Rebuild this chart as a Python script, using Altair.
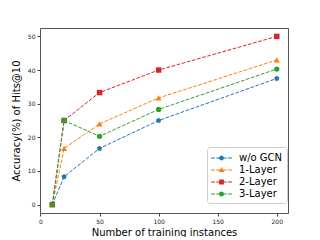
import altair as alt
import pandas as pd

x_vals = [10, 20, 50, 100, 200]
series_names = ["w/o GCN", "1-Layer", "2-Layer", "3-Layer"]
wo_gcn = [0, 8.3, 16.7, 25.0, 37.5]
layer1 = [0, 16.7, 24.0, 31.7, 43.0]
layer2 = [0, 25.0, 33.3, 40.0, 50.0]
layer3 = [0, 25.0, 20.3, 28.3, 40.3]
colors = ["#1f77b4", "#ff7f0e", "#d62728", "#2ca02c"]
x_ticks = [0, 50, 100, 150, 200]
y_ticks = [0, 10, 20, 30, 40, 50]

values = [wo_gcn, layer1, layer2, layer3]
rows = []
for name, vals in zip(series_names, values):
    for xv, yv in zip(x_vals, vals):
        rows.append({"x": xv, "y": yv, "series": name})
df = pd.DataFrame(rows)

pent = "M0,-1 L0.951,-0.309 L0.588,0.809 L-0.588,0.809 L-0.951,-0.309 Z"
marker_shapes = [pent, "triangle-up", "square", "circle"]
marker_sizes = [30, 36, 30, 28]


def fmt(v):
    return f"{v:.3f}"


# legend glyph: dashed line plus marker, in unit space (1 unit = 7 px)
cx = 0.5
dash_h = 0.07
dashes = [(-1.0, -0.43), (-0.25, 0.29), (0.71, 1.25), (1.43, 2.0)]
dash_path = " ".join(
    f"M{fmt(a)},{fmt(-dash_h)} L{fmt(b)},{fmt(-dash_h)} L{fmt(b)},{fmt(dash_h)} L{fmt(a)},{fmt(dash_h)} Z"
    for a, b in dashes
)
r = 0.39
pent_small = "M" + " L".join(
    f"{fmt(cx + px * r)},{fmt(py * r)}"
    for px, py in [(0, -1), (0.951, -0.309), (0.588, 0.809), (-0.588, 0.809), (-0.951, -0.309)]
) + " Z"
tri_small = f"M{fmt(cx)},-0.43 L{fmt(cx + 0.4)},0.29 L{fmt(cx - 0.4)},0.29 Z"
sq_small = f"M{fmt(cx - 0.34)},-0.34 L{fmt(cx + 0.34)},-0.34 L{fmt(cx + 0.34)},0.34 L{fmt(cx - 0.34)},0.34 Z"
circ_small = f"M{fmt(cx + 0.36)},0 A0.36,0.36 0 1,1 {fmt(cx - 0.36)},0 A0.36,0.36 0 1,1 {fmt(cx + 0.36)},0 Z"
legend_paths = [dash_path + " " + p for p in [pent_small, tri_small, sq_small, circ_small]]

x_enc = alt.X("x:Q", scale=alt.Scale(domain=[-0.4, 209.5], nice=False, zero=False),
              axis=alt.Axis(values=x_ticks, tickCount=12, labelOverlap=False,
                            labelFlush=False, title="Number of training instances"))
y_enc = alt.Y("y:Q", scale=alt.Scale(domain=[-2.5, 52.5], nice=False, zero=False),
              axis=alt.Axis(values=y_ticks, tickCount=12, labelOverlap=False,
                            labelFlush=False, title="Accuracy(%) of Hits@10"))

layers = []
for name, col, shp, sz in zip(series_names, colors, marker_shapes, marker_sizes):
    base = alt.Chart(df).transform_filter(alt.datum.series == name)
    line = base.mark_line(color=col, strokeWidth=1, strokeDash=[3.7, 1.6]).encode(
        x=x_enc, y=y_enc
    )
    pts = base.mark_point(shape=shp, color=col, filled=True, opacity=1, size=sz).encode(
        x=x_enc, y=y_enc
    )
    layers += [line, pts]

legend_layer = alt.Chart(df).mark_point(filled=True, size=0, opacity=1).encode(
    x=x_enc,
    y=y_enc,
    color=alt.Color("series:N", scale=alt.Scale(domain=series_names, range=colors),
                    legend=alt.Legend(
                        title=None, orient="none", legendX=167, legendY=119,
                        symbolSize=196, symbolOpacity=1, symbolStrokeWidth=0,
                        labelFontSize=10, labelFont="DejaVu Sans", labelColor="#000",
                        rowPadding=0, padding=4, labelOffset=14,
                        fillColor="white", strokeColor="#cccccc", cornerRadius=3,
                    )),
    shape=alt.Shape("series:N", scale=alt.Scale(domain=series_names, range=legend_paths)),
)
layers.append(legend_layer)

chart = alt.layer(*layers).properties(
    width=248, height=185,
    autosize=alt.AutoSizeParams(type="none"),
    padding={"left": 32, "top": 20, "right": 24, "bottom": 24},
).configure_view(
    stroke="#555555", strokeWidth=1
).configure_axis(
    grid=False, domain=False, tickSize=3, tickColor="#444444", labelFontSize=6,
    labelColor="#222222", labelFont="DejaVu Sans", titleFont="DejaVu Sans",
    titleFontSize=10, titleFontWeight="normal", titleColor="#000000", labelPadding=2,
).configure_axisX(titlePadding=3).configure_axisY(titlePadding=6)

chart.save("out.html", embed_options={"renderer": "svg", "actions": False})
